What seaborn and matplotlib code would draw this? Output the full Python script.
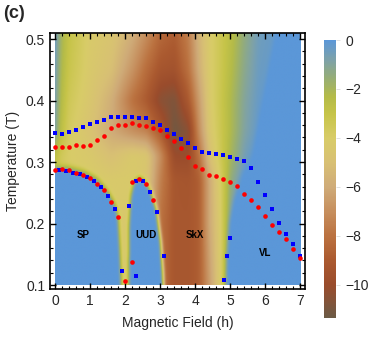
import numpy as np
import pandas as pd
import matplotlib
matplotlib.use("Agg")
import matplotlib.pyplot as plt
from matplotlib.colors import LinearSegmentedColormap
from matplotlib.ticker import MultipleLocator
import seaborn as sns

# upper transition lines (h = 0 .. 7 every 0.2)
up_h = [0.0, 0.2, 0.4, 0.6, 0.8, 1.0, 1.2, 1.4, 1.6, 1.8, 2.0, 2.2, 2.4, 2.6, 2.8, 3.0, 3.2, 3.4,
        3.6, 3.8, 4.0, 4.2, 4.4, 4.6, 4.8, 5.0, 5.2, 5.4, 5.6, 5.8, 6.0, 6.2, 6.4, 6.6, 6.8, 7.0]
blue_up_T = [0.348, 0.3455, 0.349, 0.3515, 0.357, 0.362, 0.3645, 0.369, 0.3727, 0.3737, 0.3737, 0.374,
             0.372, 0.3715, 0.3655, 0.3607, 0.3525, 0.346, 0.3374, 0.3314, 0.3222, 0.3168, 0.315, 0.3135,
             0.311, 0.308, 0.3044, 0.3016, 0.2907, 0.2675, 0.2458, 0.224, 0.2008, 0.183, 0.1662, 0.148]
red_up_T = [0.325, 0.324, 0.325, 0.327, 0.326, 0.327, 0.336, 0.342, 0.355, 0.360, 0.361, 0.363,
            0.361, 0.358, 0.355, 0.3515, 0.342, 0.335, 0.323, 0.309, 0.293, 0.288, 0.279, 0.277,
            0.273, 0.2675, 0.261, 0.248, 0.239, 0.227, 0.212, 0.198, 0.187, 0.175, 0.1585, 0.144]

# lower transition lines
blue_lo_h = [0.1, 0.3, 0.5, 0.7, 0.9, 1.1, 1.3, 1.5, 1.7, 1.9, 2.1, 2.3, 2.3, 2.5, 2.7, 2.9, 3.1,
             4.82, 4.91, 5.01]
blue_lo_T = [0.287, 0.285, 0.283, 0.2805, 0.276, 0.269, 0.259, 0.245, 0.224, 0.122, 0.229, 0.115,
             0.27, 0.269, 0.252, 0.219, 0.148, 0.108, 0.148, 0.177]
red_lo_h = [0.0, 0.2, 0.4, 0.6, 0.8, 1.0, 1.2, 1.4, 1.6, 1.8, 2.0, 2.2, 2.2, 2.4, 2.6, 2.8]
red_lo_T = [0.287, 0.288, 0.2865, 0.283, 0.279, 0.2735, 0.265, 0.2545, 0.2355, 0.21, 0.1065, 0.138,
            0.267, 0.272, 0.264, 0.239]

# background of the density map (coarse grid, rows = T, cols = h)
bg_h = [0.0, 0.15, 0.4, 1.0, 1.6, 2.2, 2.6, 3.0, 3.4, 3.8, 4.1, 4.4, 4.7, 5.0, 5.4, 5.8, 7.0]
bg_T = [0.10, 0.20, 0.27, 0.31, 0.35, 0.40, 0.45, 0.51]
bg_vals = [
    [-4.0, -4.0, -4.0, -4.0, -4.0, -4.5, -5.0, -8.0, -9.2, -9.2, -8.8, -6.5, -4.2, -1.0, 0.0, 0.0, 0.0],
    [-4.0, -4.0, -4.0, -4.0, -4.0, -4.5, -5.0, -8.0, -9.2, -9.2, -8.8, -6.0, -4.2, -1.0, 0.0, 0.0, 0.0],
    [-3.5, -3.8, -4.0, -4.0, -4.2, -4.2, -4.5, -7.5, -9.2, -9.3, -8.8, -6.0, -4.0, -1.5, 0.0, 0.0, 0.0],
    [-2.5, -3.5, -4.0, -4.3, -5.0, -4.3, -4.5, -7.0, -10.0, -10.0, -8.0, -5.0, -3.5, -2.0, -0.6, 0.0, 0.0],
    [-0.8, -2.5, -3.8, -4.8, -6.0, -7.0, -7.5, -9.0, -11.2, -10.5, -7.0, -4.5, -3.4, -2.2, -0.9, -0.2, 0.0],
    [-0.6, -2.2, -3.5, -4.5, -5.8, -8.0, -9.0, -10.5, -10.8, -9.0, -6.5, -4.3, -3.3, -2.2, -1.0, -0.3, 0.0],
    [-0.5, -2.0, -3.2, -4.3, -5.0, -6.8, -8.2, -9.3, -9.5, -8.0, -5.8, -4.2, -3.4, -2.4, -1.2, -0.4, 0.0],
    [-0.3, -1.8, -3.0, -4.2, -4.6, -5.8, -7.0, -8.3, -8.8, -7.5, -5.5, -4.2, -3.4, -2.6, -1.4, -0.5, 0.0],
]

# edges of the blue (value 0) phases
sp_h = [0.0, 0.4, 0.8, 1.2, 1.5, 1.7, 1.8, 1.85, 1.9]
sp_T = [0.291, 0.29, 0.284, 0.272, 0.252, 0.232, 0.21, 0.16, 0.09]
uud_h = [2.08, 2.1, 2.15, 2.25, 2.4, 2.55, 2.72, 2.9, 3.02, 3.08, 3.1]
uud_T = [0.09, 0.2, 0.245, 0.268, 0.275, 0.27, 0.254, 0.222, 0.17, 0.12, 0.09]
vl_T = [0.09, 0.15, 0.2, 0.24, 0.28, 0.31, 0.52]
vl_h = [4.85, 4.88, 4.95, 5.08, 5.32, 5.6, 6.3]

labels = ["SP", "UUD", "SkX", "VL"]
label_h = [0.8, 2.6, 4.0, 6.0]
label_T = [0.181, 0.181, 0.181, 0.152]

cmap_vals = [-11.35, -10.5, -10.0, -9.0, -8.0, -7.0, -6.0, -5.0, -4.0, -3.0, -2.3, -1.5, -0.8, 0.0]
cmap_cols = ['#6b5a45', '#8a5236', '#9a4c2c', '#ab5a30', '#bb7240', '#c68f5e', '#cfab78',
             '#d8c074', '#d8cc68', '#c6c448', '#b4bb48', '#95ad78', '#7ea2a8', '#5b97d8']
vmin, vmax = -11.35, 0.0

# build the smooth field
hh = np.linspace(0, 7, 701)
tt = np.linspace(0.1, 0.51, 411)
bg = np.array(bg_vals)
rows = np.array([np.interp(hh, bg_h, r) for r in bg])
field = np.array([np.interp(tt, bg_T, rows[:, j]) for j in range(len(hh))]).T

H, TT = np.meshgrid(hh, tt)
sp_mask = (H <= sp_h[-1]) & (TT < np.interp(H, sp_h, sp_T))
uud_mask = (H >= uud_h[0]) & (H <= uud_h[-1]) & (TT < np.interp(H, uud_h, uud_T))
vl_mask = H > np.interp(TT, vl_T, vl_h)
field[sp_mask | uud_mask | vl_mask] = 0.0


def smooth(a, sig, axis):
    n = int(3 * sig)
    k = np.exp(-0.5 * (np.arange(-n, n + 1) / sig) ** 2)
    k /= k.sum()
    pad = [(0, 0), (0, 0)]
    pad[axis] = (n, n)
    a = np.pad(a, pad, mode="edge")
    return np.apply_along_axis(lambda v: np.convolve(v, k, mode="valid"), axis, a)


field = smooth(field, 5, 1)
field = smooth(field, 5, 0)

sns.set_style("ticks")
plt.rcParams["font.family"] = ["Liberation Sans", "DejaVu Sans"]

pos = [(v - vmin) / (vmax - vmin) for v in cmap_vals]
cmap = LinearSegmentedColormap.from_list("terrain_c", list(zip(pos, cmap_cols)))

fig = plt.figure(figsize=(3.74, 3.44), dpi=100)
ax = fig.add_axes([50 / 374, 55 / 344, 255 / 374, 256 / 344])
cax = fig.add_axes([324 / 374, 26 / 344, 12 / 374, 278 / 344])

im = ax.imshow(field, origin="lower", extent=[0, 7, 0.1, 0.51], aspect="auto",
               cmap=cmap, vmin=vmin, vmax=vmax, interpolation="bilinear")

sns.scatterplot(x=up_h, y=blue_up_T, ax=ax, color="blue", marker="s", s=12, linewidth=0)
sns.scatterplot(x=up_h, y=red_up_T, ax=ax, color="red", marker="o", s=11, linewidth=0)
sns.scatterplot(x=blue_lo_h, y=blue_lo_T, ax=ax, color="blue", marker="s", s=12, linewidth=0)
sns.scatterplot(x=red_lo_h, y=red_lo_T, ax=ax, color="red", marker="o", s=11, linewidth=0)

for name, x, y in zip(labels, label_h, label_T):
    ax.text(x, y, name, fontsize=7, fontweight="bold", ha="center", va="center", color="black")

ax.set_xlim(-0.143, 7.14)
ax.set_ylim(0.0935, 0.51)
ax.xaxis.set_major_locator(MultipleLocator(1))
ax.xaxis.set_minor_locator(MultipleLocator(0.2))
ax.yaxis.set_major_locator(MultipleLocator(0.1))
ax.yaxis.set_minor_locator(MultipleLocator(0.02))
ax.set_yticks([0.1, 0.2, 0.3, 0.4, 0.5])
ax.set_yticklabels(["0.1", "0.2", "0.3", "0.4", "0.5"])
ax.tick_params(which="both", direction="in", top=True, right=True, labelsize=10, color="black")
ax.tick_params(which="major", length=4, width=1)
ax.tick_params(which="minor", length=2.2, width=0.8)
for sp in ax.spines.values():
    sp.set_linewidth(1.2)
    sp.set_color("black")
ax.set_xlabel("Magnetic Field (h)", fontsize=10, labelpad=6)
ax.set_ylabel("Temperature (T)", fontsize=10, labelpad=4)

cb = fig.colorbar(im, cax=cax)
cb.outline.set_visible(False)
cb.set_ticks([0, -2, -4, -6, -8, -10])
cb.set_ticklabels(["0", "\u22122", "\u22124", "\u22126", "\u22128", "\u221210"])
cax.tick_params(labelsize=10, length=3, width=0.6, color="#dddddd", direction="out")

fig.text(0.008, 0.985, "(c)", fontsize=13, fontweight="bold", va="top", ha="left")

fig.savefig("out.png", dpi=100)
